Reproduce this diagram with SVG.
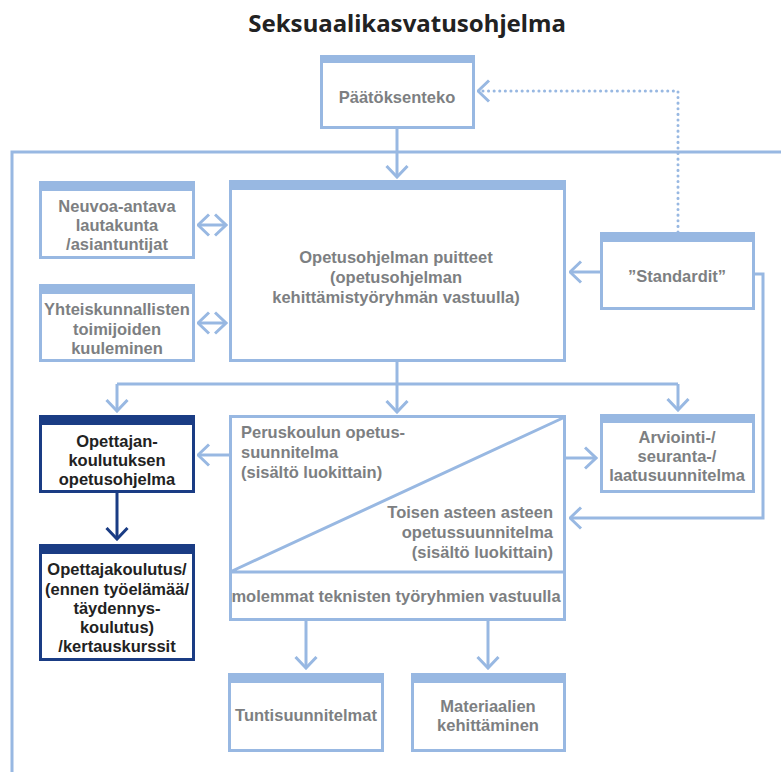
<svg xmlns="http://www.w3.org/2000/svg" width="781" height="772" viewBox="0 0 781 772">
<defs>
<marker id="ah" markerUnits="userSpaceOnUse" viewBox="0 0 14 24" refX="12.5" refY="12" markerWidth="14" markerHeight="24" orient="auto-start-reverse">
<path d="M1.5,1.5 L12.5,12 L1.5,22.5" fill="none" stroke="#98b8e2" stroke-width="3"/>
</marker>
<marker id="ahn" markerUnits="userSpaceOnUse" viewBox="0 0 14 24" refX="12.5" refY="12" markerWidth="14" markerHeight="24" orient="auto">
<path d="M1.5,1.5 L12.5,12 L1.5,22.5" fill="none" stroke="#1a3c84" stroke-width="3"/>
</marker>
</defs>
<style>
.box{fill:#fff;stroke:#98b8e2;stroke-width:3}
.bar{fill:#98b8e2}
.nbox{fill:#fff;stroke:#1a3c84;stroke-width:3}
.nbar{fill:#1a3c84}
.c{fill:none;stroke:#98b8e2;stroke-width:3}
.t{font-family:"Liberation Sans",Arial,sans-serif;font-weight:700;font-size:16.5px;fill:#7d7f82;text-anchor:middle}
.tn{font-family:"Liberation Sans",Arial,sans-serif;font-weight:700;font-size:16.5px;fill:#222;text-anchor:middle}
</style>
<rect width="781" height="772" fill="#fff"/>
<text x="407" y="32" style="font-family:'Noto Sans','Open Sans',sans-serif;font-weight:700;font-size:24px;fill:#222;text-anchor:middle">Seksuaalikasvatusohjelma</text>

<g id="connectors">
<path class="c" d="M12,772 V152 H781"/>
<path class="c" d="M678,232 V91 H478" stroke-dasharray="0.1 5.5" stroke-linecap="round" stroke-width="2.6" marker-end="url(#ah)"/>
<path class="c" d="M397,129 V177" marker-end="url(#ah)"/>
<path class="c" d="M600,272 H570" marker-end="url(#ah)"/>
<path class="c" d="M755,274 H763 V518 H570" marker-end="url(#ah)"/>
<path class="c" d="M198,225 H226" marker-start="url(#ah)" marker-end="url(#ah)"/>
<path class="c" d="M198,323 H226" marker-start="url(#ah)" marker-end="url(#ah)"/>
<path class="c" d="M397,362 V412" marker-end="url(#ah)"/>
<path class="c" d="M117,384 H678"/>
<path class="c" d="M117,384 V411" marker-end="url(#ah)"/>
<path class="c" d="M678,384 V410" marker-end="url(#ah)"/>
<path class="c" d="M229,455 H198" marker-end="url(#ah)"/>
<path class="c" d="M566,458 H596" marker-end="url(#ah)"/>
<path class="c" d="M306,621 V668" marker-end="url(#ah)"/>
<path class="c" d="M488,621 V668" marker-end="url(#ah)"/>
<path d="M117,493 V539" fill="none" stroke="#1a3c84" stroke-width="3" marker-end="url(#ahn)"/>
</g>

<g id="paatoksenteko">
<rect class="box" x="321.5" y="56.5" width="152" height="71"/>
<rect class="bar" x="320" y="55" width="155" height="8"/>
<text class="t" x="397" y="103">Päätöksenteko</text>
</g>

<g id="puitteet">
<rect class="box" x="230.5" y="181.5" width="334" height="179"/>
<rect class="bar" x="229" y="180" width="337" height="10"/>
<text class="t" x="396" y="263">Opetusohjelman puitteet</text>
<text class="t" x="396" y="283">(opetusohjelman</text>
<text class="t" x="396" y="303">kehittämistyöryhmän vastuulla)</text>
</g>

<g id="neuvoa">
<rect class="box" x="40.5" y="182.5" width="153" height="75"/>
<rect class="bar" x="39" y="181" width="156" height="10"/>
<text class="t" x="117" y="212">Neuvoa-antava</text>
<text class="t" x="117" y="231">lautakunta</text>
<text class="t" x="117" y="250">/asiantuntijat</text>
</g>

<g id="yhteiskunnallisten">
<rect class="box" x="40.5" y="285.5" width="153" height="75"/>
<rect class="bar" x="39" y="284" width="156" height="10"/>
<text class="t" x="117" y="315">Yhteiskunnallisten</text>
<text class="t" x="117" y="335">toimijoiden</text>
<text class="t" x="117" y="354">kuuleminen</text>
</g>

<g id="standardit">
<rect class="box" x="601.5" y="233.5" width="152" height="75"/>
<rect class="bar" x="600" y="232" width="155" height="10"/>
<text class="t" x="677" y="282">”Standardit”</text>
</g>

<g id="opettajan">
<rect class="nbox" x="40.5" y="416.5" width="153" height="75"/>
<rect class="nbar" x="39" y="415" width="156" height="10"/>
<text class="tn" x="117" y="447">Opettajan-</text>
<text class="tn" x="117" y="466">koulutuksen</text>
<text class="tn" x="117" y="485">opetusohjelma</text>
</g>

<g id="opettajakoulutus">
<rect class="nbox" x="40.5" y="545.5" width="153" height="114"/>
<rect class="nbar" x="39" y="544" width="156" height="10"/>
<text class="tn" x="117" y="575">Opettajakoulutus/</text>
<text class="tn" x="117" y="595">(ennen työelämää/</text>
<text class="tn" x="117" y="614">täydennys-</text>
<text class="tn" x="117" y="633">koulutus)</text>
<text class="tn" x="117" y="652">/kertauskurssit</text>
</g>

<g id="opetussuunnitelmat">
<rect class="box" x="230.5" y="416.5" width="334" height="203"/>
<path class="c" d="M230,572 H565 M230,572 L565,417"/>
<text class="t" x="241" y="438" style="text-anchor:start">Peruskoulun opetus-</text>
<text class="t" x="241" y="458" style="text-anchor:start">suunnitelma</text>
<text class="t" x="241" y="478" style="text-anchor:start">(sisältö luokittain)</text>
<text class="t" x="553" y="518" style="text-anchor:end">Toisen asteen asteen</text>
<text class="t" x="553" y="538" style="text-anchor:end">opetussuunnitelma</text>
<text class="t" x="553" y="558" style="text-anchor:end">(sisältö luokittain)</text>
<text class="t" x="396" y="602">molemmat teknisten työryhmien vastuulla</text>
</g>

<g id="arviointi">
<rect class="box" x="601.5" y="415.5" width="152" height="76"/>
<rect class="bar" x="600" y="414" width="155" height="9"/>
<text class="t" x="677" y="443">Arviointi-/</text>
<text class="t" x="677" y="462">seuranta-/</text>
<text class="t" x="677" y="481">laatusuunnitelma</text>
</g>

<g id="tuntisuunnitelmat">
<rect class="box" x="229.5" y="674.5" width="153" height="76"/>
<rect class="bar" x="228" y="673" width="156" height="10"/>
<text class="t" x="306" y="721">Tuntisuunnitelmat</text>
</g>

<g id="materiaalien">
<rect class="box" x="412.5" y="674.5" width="152" height="76"/>
<rect class="bar" x="411" y="673" width="155" height="10"/>
<text class="t" x="488" y="712">Materiaalien</text>
<text class="t" x="488" y="731">kehittäminen</text>
</g>
</svg>
